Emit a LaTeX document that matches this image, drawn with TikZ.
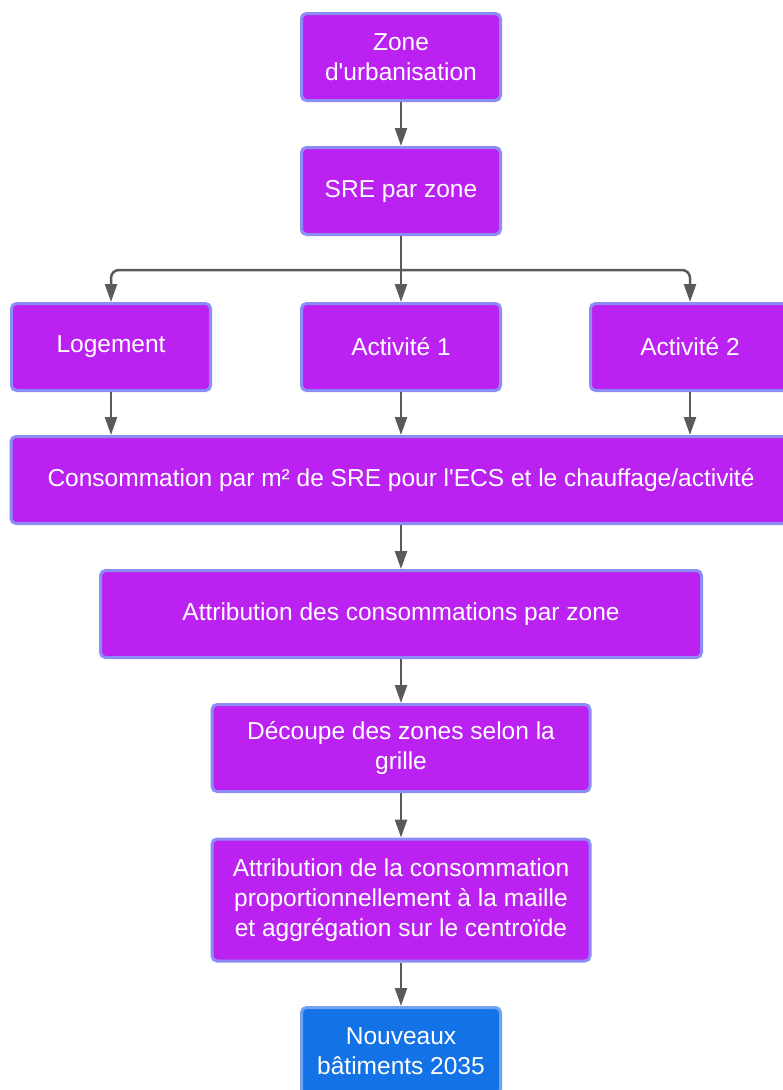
\documentclass[tikz,border=0pt]{standalone}
\usepackage{fontspec}
\setmainfont{Liberation Sans}[Ligatures=TeXOff]
\usetikzlibrary{arrows.meta}

\definecolor{boxpurple}{RGB}{187,34,241}
\definecolor{boxedge}{RGB}{140,140,246}
\definecolor{boxblue}{RGB}{19,115,230}
\definecolor{blueedge}{RGB}{112,162,242}
\definecolor{linkgray}{RGB}{90,90,90}

\begin{document}
\begin{tikzpicture}[x=1pt,y=-1pt,
    stepbox/.style={draw=boxedge, fill=boxpurple, line width=3pt,
        rounded corners=5pt, text=white, align=center,
        font=\fontsize{24.5}{30}\selectfont, inner sep=0pt,
        minimum width=199pt, minimum height=87pt},
    endbox/.style={stepbox, draw=blueedge, fill=boxblue},
    link/.style={draw=linkgray, line width=2.5pt,
        -{Triangle[length=18pt,width=12pt]}}]
    \useasboundingbox (0,0) rectangle (783,1090);
    \node (zone) [stepbox] at (401,57) {Zone\\d'urbanisation};
    \node (sre) [stepbox] at (401,191) {SRE par zone};
    \node (loge) [stepbox] at (111,347) {Logement};
    \node (act1) [stepbox] at (401,347) {Activité 1};
    \node (act2) [stepbox] at (690,347) {Activité 2};
    \node (conso) [stepbox, minimum width=780pt] at (401,480)
        {Consommation par m² de SRE pour l'ECS et le chauffage/activité};
    \node (attr) [stepbox, minimum width=601pt] at (401,614)
        {Attribution des consommations par zone};
    \node (decoupe) [stepbox, minimum width=378pt] at (401,748)
        {Découpe des zones selon la\\grille};
    \node (maille) [stepbox, minimum width=378pt, minimum height=122pt] at (401,900)
        {Attribution de la consommation\\proportionnellement à la maille\\et aggrégation sur le centroïde};
    \node (neuf) [endbox] at (401,1051) {Nouveaux\\bâtiments 2035};

    \draw[link] (zone) -- (sre);
    \draw[link] (sre.south) -- (act1.north);
    \coordinate (split) at (401,270);
    \draw[link, rounded corners=8pt] (split) -| (loge.north);
    \draw[link, rounded corners=8pt] (split) -| (act2.north);
    \draw[link] (loge.south) -- (loge.south |- conso.north);
    \draw[link] (act1.south) -- (conso.north);
    \draw[link] (act2.south) -- (act2.south |- conso.north);
    \draw[link] (conso) -- (attr);
    \draw[link] (attr) -- (decoupe);
    \draw[link] (decoupe) -- (maille);
    \draw[link] (maille) -- (neuf);
\end{tikzpicture}
\end{document}
